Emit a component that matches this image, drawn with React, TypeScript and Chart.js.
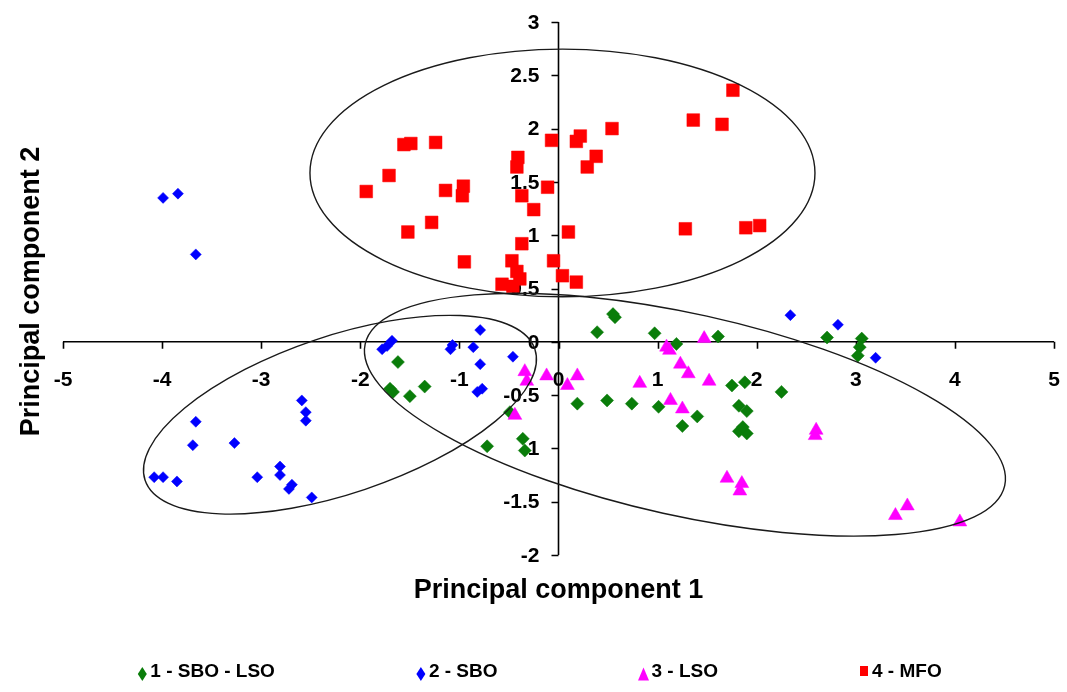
import React, { useEffect, useRef } from 'react';
import { Chart, registerables } from 'chart.js';

Chart.register(...registerables);

// ---- Series (principal component scores) ----
const seriesNames = ['1 - SBO - LSO', '2 - SBO', '3 - LSO', '4 - MFO'];
const seriesColors = ['#0a7d0a', '#0000ff', '#ff00ff', '#ff0000'];
const seriesStyles = ['rectRot', 'rectRot', 'triangle', 'rect'];
const seriesRadii = [6.5, 5.5, 8, 9];

const sboLsoPC1 = [-1.62, -1.70, -1.67, -1.50, -1.35, -0.72, -0.36, -0.34, -0.49, 0.39, 0.57, 0.55, 0.19, 0.49, 0.74, 0.97, 1.19, 1.01, 1.25, 1.40, 1.61, 2.71, 3.06, 3.04, 3.02, 1.75, 1.88, 2.25, 1.82, 1.90, 1.82, 1.90, 1.86];
const sboLsoPC2 = [-0.19, -0.44, -0.47, -0.51, -0.42, -0.98, -0.91, -1.02, -0.66, 0.09, 0.23, 0.26, -0.58, -0.55, -0.58, 0.08, -0.02, -0.61, -0.79, -0.70, 0.05, 0.04, 0.03, -0.05, -0.13, -0.41, -0.38, -0.47, -0.60, -0.65, -0.84, -0.86, -0.80];

const sboPC1 = [-3.99, -3.84, -3.66, -2.59, -2.55, -2.55, -3.66, -3.69, -3.27, -2.81, -2.81, -4.08, -3.99, -3.85, -3.04, -2.69, -2.72, -2.49, -1.78, -1.73, -1.68, -1.09, -1.07, -0.86, -0.79, -0.79, -0.82, -0.77, -0.46, 2.34, 2.82, 3.20];
const sboPC2 = [1.35, 1.39, 0.82, -0.55, -0.66, -0.74, -0.75, -0.97, -0.95, -1.17, -1.25, -1.27, -1.27, -1.31, -1.27, -1.34, -1.38, -1.46, -0.07, -0.04, 0.01, -0.07, -0.03, -0.05, 0.11, -0.21, -0.47, -0.44, -0.14, 0.25, 0.16, -0.15];

const lsoPC1 = [-0.34, -0.32, -0.44, -0.12, 0.19, 0.09, 0.82, 1.09, 1.12, 1.23, 1.31, 1.13, 1.25, 1.47, 1.52, 2.60, 2.59, 1.70, 1.85, 1.83, 3.40, 3.52, 4.05];
const lsoPC2 = [-0.28, -0.37, -0.69, -0.32, -0.32, -0.41, -0.39, -0.05, -0.08, -0.21, -0.30, -0.55, -0.63, 0.03, -0.37, -0.83, -0.88, -1.28, -1.33, -1.40, -1.63, -1.54, -1.69];

const mfoPC1 = [-1.94, -1.71, -1.56, -1.49, -1.24, -1.14, -0.96, -0.97, -1.28, -1.52, -0.95, -0.41, -0.42, -0.37, -0.25, -0.11, -0.07, 0.18, 0.22, 0.54, 0.29, 0.38, 0.10, 1.36, 1.28, 1.76, 1.65, 1.89, 2.03, -0.47, -0.37, -0.42, -0.39, -0.57, -0.46, -0.05, 0.04, 0.18];
const mfoPC2 = [1.41, 1.56, 1.85, 1.86, 1.87, 1.42, 1.46, 1.37, 1.12, 1.03, 0.75, 1.73, 1.64, 1.37, 1.24, 1.45, 1.89, 1.88, 1.93, 2.00, 1.64, 1.74, 1.03, 2.08, 1.06, 2.36, 2.04, 1.07, 1.09, 0.76, 0.92, 0.66, 0.59, 0.54, 0.52, 0.76, 0.62, 0.56];

// ---- Axes ----
const xTickLabels = ['-5', '-4', '-3', '-2', '-1', '0', '1', '2', '3', '4', '5'];
const yTickLabels = ['-2', '-1.5', '-1', '-0.5', '0', '0.5', '1', '1.5', '2', '2.5', '3'];
const xTitle = 'Principal component 1';
const yTitle = 'Principal component 2';

// ---- Group ellipses (data units; tilt in degrees, counter-clockwise) ----
const ellipseCenterPC1 = [0.04, -2.205, 1.276];
const ellipseCenterPC2 = [1.584, -0.684, -0.684];
const ellipseHalfWidth = [2.548, 2.075, 3.305];
const ellipseHalfHeight = [1.162, 0.739, 0.947];
const ellipseTiltDeg = [0, 18.6, -12.5];

const FONT = '"Liberation Sans", Arial, Helvetica, sans-serif';

function toPoints(xs: number[], ys: number[]) {
  return xs.map((x, i) => ({ x, y: ys[i] }));
}

function drawMarker(ctx: CanvasRenderingContext2D, style: string, x: number, y: number, w: number, h: number, color: string) {
  ctx.save();
  ctx.fillStyle = color;
  ctx.beginPath();
  if (style === 'rectRot') {
    ctx.moveTo(x, y - h / 2);
    ctx.lineTo(x + w / 2, y);
    ctx.lineTo(x, y + h / 2);
    ctx.lineTo(x - w / 2, y);
  } else if (style === 'triangle') {
    ctx.moveTo(x, y - h / 2);
    ctx.lineTo(x + w / 2, y + h / 2);
    ctx.lineTo(x - w / 2, y + h / 2);
  } else {
    ctx.rect(x - w / 2, y - h / 2, w, h);
  }
  ctx.closePath();
  ctx.fill();
  ctx.restore();
}

const pcaPlugin = {
  id: 'pcaDecor',
  beforeDatasetsDraw(chart: any) {
    const { ctx } = chart;
    const xs = chart.scales.x;
    const ys = chart.scales.y;
    const x0 = xs.getPixelForValue(0);
    const y0 = ys.getPixelForValue(0);
    ctx.save();
    ctx.strokeStyle = '#000';
    ctx.lineWidth = 1.6;
    // horizontal axis
    const xl = xs.getPixelForValue(Number(xTickLabels[0]));
    const xr = xs.getPixelForValue(Number(xTickLabels[xTickLabels.length - 1]));
    ctx.beginPath();
    ctx.moveTo(xl, y0);
    ctx.lineTo(xr, y0);
    xTickLabels.forEach((t) => {
      const px = Math.round(xs.getPixelForValue(Number(t))) + 0.5;
      ctx.moveTo(px, y0);
      ctx.lineTo(px, y0 + 7);
    });
    ctx.stroke();
    // vertical axis
    const yb = ys.getPixelForValue(Number(yTickLabels[0]));
    const yt = ys.getPixelForValue(Number(yTickLabels[yTickLabels.length - 1]));
    ctx.beginPath();
    ctx.moveTo(x0, yb);
    ctx.lineTo(x0, yt);
    yTickLabels.forEach((t) => {
      const py = Math.round(ys.getPixelForValue(Number(t))) + 0.5;
      ctx.moveTo(x0, py);
      ctx.lineTo(x0 - 7, py);
    });
    ctx.stroke();

    ctx.fillStyle = '#000';
    ctx.font = `bold 21px ${FONT}`;
    ctx.textAlign = 'center';
    ctx.textBaseline = 'middle';
    xTickLabels.forEach((t) => {
      ctx.fillText(t, xs.getPixelForValue(Number(t)), y0 + 38);
    });
    ctx.textAlign = 'right';
    yTickLabels.forEach((t) => {
      ctx.fillText(t, x0 - 19, ys.getPixelForValue(Number(t)) + 1);
    });

    // axis titles
    ctx.font = `bold 27px ${FONT}`;
    ctx.textAlign = 'center';
    ctx.fillText(xTitle, x0, ys.getPixelForValue(-2) + 36);
    ctx.save();
    ctx.translate(32, (chart.chartArea.top + chart.chartArea.bottom) / 2 + 3);
    ctx.rotate(-Math.PI / 2);
    ctx.fillText(yTitle, 0, 0);
    ctx.restore();

    // legend
    ctx.font = `bold 19px ${FONT}`;
    ctx.textAlign = 'left';
    const gap = 140;
    const markW = 12;
    const widths = seriesNames.map((n) => markW + 2 + ctx.measureText(n).width);
    const total = widths.reduce((a, b) => a + b, 0) + gap * (seriesNames.length - 1);
    let cursor = 539 - total / 2;
    const ly = 672;
    seriesNames.forEach((n, i) => {
      const mw = seriesStyles[i] === 'triangle' ? 11 : seriesStyles[i] === 'rect' ? 8 : 9;
      const mh = seriesStyles[i] === 'triangle' ? 13 : seriesStyles[i] === 'rect' ? 10 : 14;
      drawMarker(ctx, seriesStyles[i], cursor + markW / 2, ly + (seriesStyles[i] === 'rect' ? -1 : 2), mw, mh, seriesColors[i]);
      ctx.fillStyle = '#000';
      ctx.fillText(n, cursor + markW + 2, ly);
      cursor += widths[i] + gap;
    });
    ctx.restore();
  },
  afterDatasetsDraw(chart: any) {
    const { ctx } = chart;
    const xs = chart.scales.x;
    const ys = chart.scales.y;
    ctx.save();
    ctx.strokeStyle = '#1a1a1a';
    ctx.lineWidth = 1.4;
    ellipseCenterPC1.forEach((cx, i) => {
      const px = xs.getPixelForValue(cx);
      const py = ys.getPixelForValue(ellipseCenterPC2[i]);
      const rx = Math.abs(xs.getPixelForValue(cx + ellipseHalfWidth[i]) - px);
      const ry = Math.abs(ys.getPixelForValue(ellipseCenterPC2[i] + ellipseHalfHeight[i]) - py);
      ctx.beginPath();
      ctx.ellipse(px, py, rx, ry, (-ellipseTiltDeg[i] * Math.PI) / 180, 0, Math.PI * 2);
      ctx.stroke();
    });
    ctx.restore();
  },
};

export default function App() {
  const canvasRef = useRef<HTMLCanvasElement | null>(null);

  useEffect(() => {
    document.body.style.margin = '0';
    const canvas = canvasRef.current;
    if (!canvas) return;
    const groups = [
      toPoints(sboLsoPC1, sboLsoPC2),
      toPoints(sboPC1, sboPC2),
      toPoints(lsoPC1, lsoPC2),
      toPoints(mfoPC1, mfoPC2),
    ];
    const chart = new Chart(canvas, {
      type: 'scatter',
      data: {
        datasets: groups.map((pts, i) => ({
          label: seriesNames[i],
          data: pts,
          pointStyle: seriesStyles[i] as any,
          pointRadius: seriesRadii[i],
          pointBackgroundColor: seriesColors[i],
          pointBorderColor: seriesColors[i],
          pointBorderWidth: 0.5,
          backgroundColor: seriesColors[i],
          borderColor: seriesColors[i],
          order: 4 - i,
        })),
      },
      options: {
        responsive: false,
        animation: false,
        devicePixelRatio: 1,
        layout: { padding: { left: 63, right: 13, top: 22, bottom: 137 } },
        scales: {
          x: { type: 'linear', min: -5, max: 5, display: false },
          y: { type: 'linear', min: -2, max: 3, display: false },
        },
        plugins: {
          legend: { display: false },
          tooltip: { enabled: false },
        },
      },
      plugins: [pcaPlugin],
    });
    return () => chart.destroy();
  }, []);

  return (
    <div style={{ width: 1067, height: 692, background: '#fff' }}>
      <canvas ref={canvasRef} width={1067} height={692} style={{ display: 'block' }} />
    </div>
  );
}
